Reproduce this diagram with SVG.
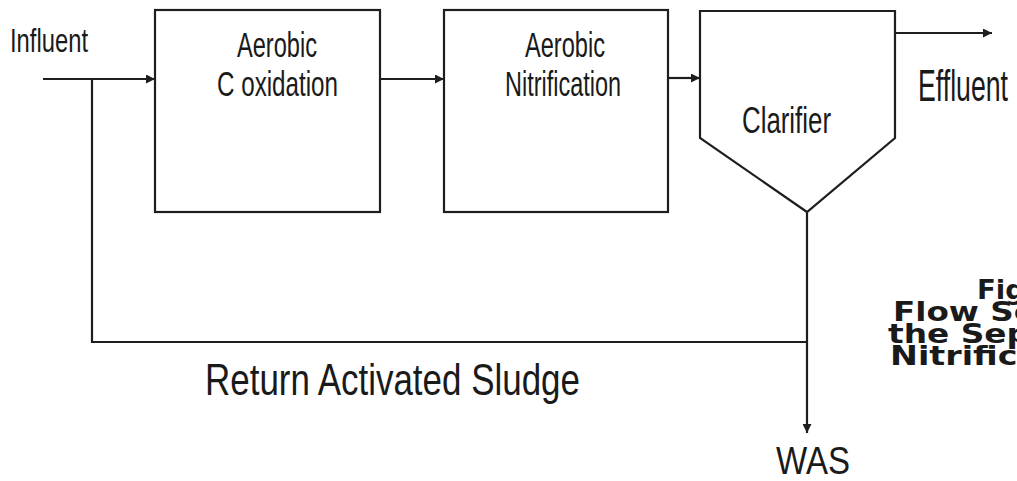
<svg xmlns="http://www.w3.org/2000/svg" width="1017" height="481" viewBox="0 0 1017 481">
<defs>
<style>
.ln{fill:none;stroke:#1e1e1e;stroke-width:2.2;stroke-linejoin:miter}
.bx{fill:#ffffff;stroke:#1e1e1e;stroke-width:2.2}
.t{font-family:"Liberation Sans",Arial,sans-serif;fill:#1a1a1a}
.cap{font-family:"DejaVu Sans","Liberation Sans",sans-serif;font-weight:bold;fill:#1a1a1a;font-size:26px}
</style>
<marker id="ah" viewBox="0 0 10 10" refX="10" refY="5" markerWidth="10" markerHeight="9" markerUnits="userSpaceOnUse" orient="auto">
<path d="M0,0 L10,5 L0,10 Z" fill="#1e1e1e"/>
</marker>
</defs>
<rect width="1017" height="481" fill="#ffffff"/>
<g id="connectors">
<path class="ln" d="M43,79 H155" marker-end="url(#ah)"/>
<path class="ln" d="M380,79 H444" marker-end="url(#ah)"/>
<path class="ln" d="M668,78 H700" marker-end="url(#ah)"/>
<path class="ln" d="M895,33 H992" marker-end="url(#ah)"/>
<path class="ln" d="M807,212 V433" marker-end="url(#ah)"/>
<path class="ln" d="M807,342 H92 V79"/>
</g>
<g id="influent"><text class="t" x="10" y="52" font-size="33" textLength="78" lengthAdjust="spacingAndGlyphs">Influent</text></g>
<g id="node-c-oxidation">
<rect class="bx" x="155" y="10" width="225" height="202"/>
<text class="t" x="237" y="57" font-size="35" textLength="80" lengthAdjust="spacingAndGlyphs">Aerobic</text>
<text class="t" x="217" y="96" font-size="35" textLength="121" lengthAdjust="spacingAndGlyphs">C oxidation</text>
</g>
<g id="node-nitrification">
<rect class="bx" x="444" y="10" width="224" height="202"/>
<text class="t" x="525" y="57" font-size="35" textLength="80" lengthAdjust="spacingAndGlyphs">Aerobic</text>
<text class="t" x="505" y="96" font-size="35" textLength="116" lengthAdjust="spacingAndGlyphs">Nitrification</text>
</g>
<g id="node-clarifier">
<path class="bx" d="M700,11 H895 V138 L807,212 L700,138 Z"/>
<text class="t" x="742" y="133" font-size="36" textLength="89" lengthAdjust="spacingAndGlyphs">Clarifier</text>
</g>
<g id="effluent"><text class="t" x="918" y="101" font-size="45" textLength="90" lengthAdjust="spacingAndGlyphs">Effluent</text></g>
<g id="ras-label"><text class="t" x="205" y="395" font-size="44" textLength="375" lengthAdjust="spacingAndGlyphs">Return Activated Sludge</text></g>
<g id="was"><text class="t" x="776" y="474" font-size="38" textLength="74" lengthAdjust="spacingAndGlyphs">WAS</text></g>
<g id="caption">
<text class="cap" x="977" y="299" textLength="48" lengthAdjust="spacingAndGlyphs">Fig</text>
<text class="cap" x="893" y="321" textLength="140" lengthAdjust="spacingAndGlyphs">Flow Sc</text>
<text class="cap" x="888" y="343" textLength="142" lengthAdjust="spacingAndGlyphs">the Sep</text>
<text class="cap" x="890" y="365" textLength="150" lengthAdjust="spacingAndGlyphs">Nitrifica</text>
</g>
</svg>
